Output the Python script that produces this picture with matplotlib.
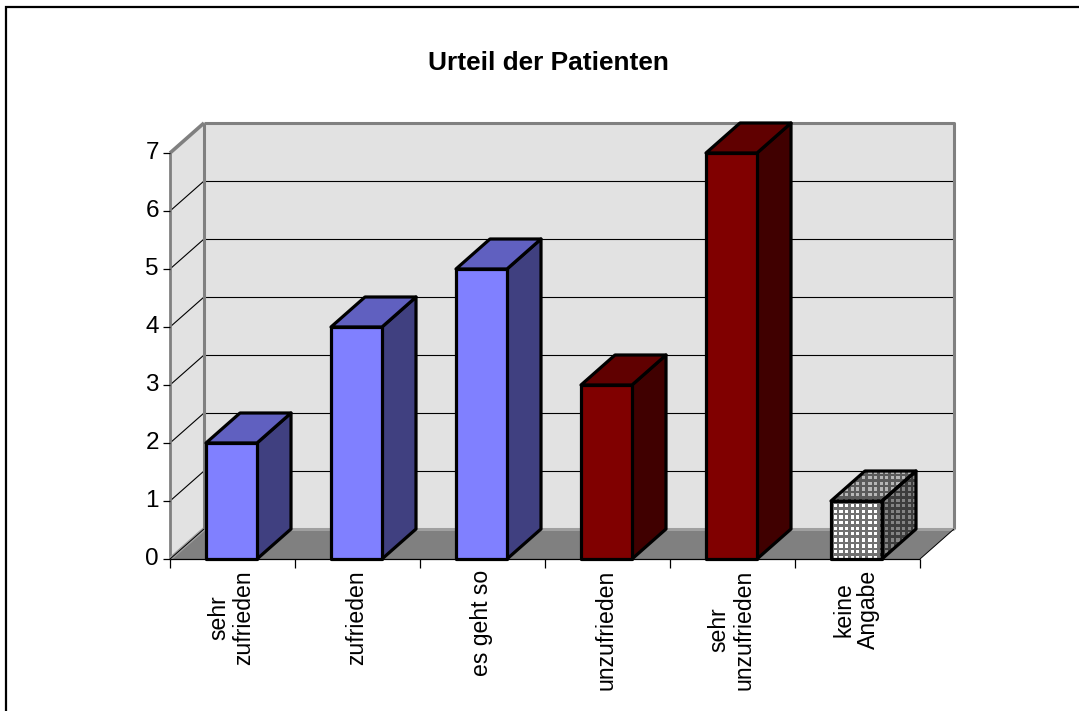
import numpy as np
import matplotlib
matplotlib.use("Agg")
import matplotlib.pyplot as plt
from matplotlib.lines import Line2D
from matplotlib.patches import Polygon

categories = ["sehr\nzufrieden", "zufrieden", "es geht so", "unzufrieden", "sehr\nunzufrieden", "keine\nAngabe"]
values = [2, 4, 5, 3, 7, 1]
y_ticks = [0, 1, 2, 3, 4, 5, 6, 7]
front_colors = ["#8080FF", "#8080FF", "#8080FF", "#800000", "#800000", None]
top_colors = ["#6060C0", "#6060C0", "#6060C0", "#600000", "#600000", None]
side_colors = ["#404080", "#404080", "#404080", "#400000", "#400000", None]

W, H = 1079, 711
plt.rcParams["font.family"] = ["Liberation Sans", "DejaVu Sans"]
fig = plt.figure(figsize=(W / 100, H / 100), dpi=100, facecolor="white")

# chart frame: only the top and left edges fall inside the canvas
fig.add_artist(Line2D([5.5 / W, 5.5 / W, 1], [0, 1 - 6.5 / H, 1 - 6.5 / H], color="black", lw=1.6,
                      transform=fig.transFigure, solid_joinstyle="miter"))

# plot area: x 170..920 px, y 153..559 px
ax = fig.add_axes([170 / W, 1 - 559 / H, 750 / W, 406 / H])
ax.axis("off")

# oblique depth of the pseudo-3D box, in data units
DX = 34 / 125
DY = 30 / 58
BAR_W = 51 / 125
BAR_SHIFT = -1 / 125
GRAY = "#808080"


def poly(pts, fc, ec="none", lw=0.0, z=1):
    p = Polygon(pts, closed=True, fc=fc, ec=ec, lw=lw, zorder=z, clip_on=False, joinstyle="round")
    ax.add_patch(p)
    return p


def line(xs, ys, color="black", lw=0.75, z=2):
    ax.plot(xs, ys, color=color, lw=lw, zorder=z, clip_on=False, solid_capstyle="butt")


# walls and floor
ymax = y_ticks[-1]
poly([(DX, DY), (6 + DX, DY), (6 + DX, ymax + DY), (DX, ymax + DY)], "#E2E2E2")
poly([(0, 0), (DX, DY), (DX, ymax + DY), (0, ymax)], "#E2E2E2")
poly([(0, 0), (6, 0), (6 + DX, DY), (DX, DY)], GRAY)

# gridlines across side wall and back wall
for t in y_ticks[1:-1]:
    line([0, DX], [t, t + DY], "black", 0.8)
    line([DX, 6 + DX], [t + DY, t + DY], "black", 0.8)

# wall outlines
line([DX, 6 + DX, 6 + DX], [ymax + DY, ymax + DY, DY], GRAY, 2.2, 3)
line([DX, 6 + DX], [DY, DY], "#A0A0A0", 2.2, 3)
line([DX, DX], [DY, ymax + DY], GRAY, 2.2, 3)
line([0, 0], [0, ymax], GRAY, 2.0, 3)
line([0, DX], [ymax, ymax + DY], GRAY, 2.6, 3)
line([0, DX], [0, DY], "#A0A0A0", 2.6, 3)
line([0, DX], [0, DY], "black", 0.7, 3)
line([6, 6 + DX], [0, DY], "black", 0.7, 3)

# axis lines and ticks
line([0, 6], [0, 0], "black", 0.9, 4)
for i in range(7):
    line([i, i], [0, -9 / 58], "black", 0.9, 4)
for t in y_ticks:
    line([-7 / 125, 0], [t, t], "black", 0.9, 4)
    ax.text(-11 / 125, t, str(t), ha="right", va="center", fontsize=17.5)


# pixel-sized dot texture used by the last category
def dotted(patch, base, dot, z):
    extent = (4.9, 6.6, -0.2, 2.2)
    nx = int((extent[1] - extent[0]) * 125)
    ny = int((extent[3] - extent[2]) * 58)
    yy, xx = np.indices((ny, nx))
    mask = (xx % 5.6 < 3.2) & (yy % 5.6 < 3.2)
    img = np.where(mask[..., None], np.array(dot), np.array(base))
    im = ax.imshow(img, extent=extent, interpolation="nearest", zorder=z, aspect="auto")
    im.set_clip_path(patch)


EDGE = 2.3

# bars
for i, v in enumerate(values):
    x0 = i + 0.5 - BAR_W / 2 + BAR_SHIFT
    x1 = x0 + BAR_W
    front = [(x0, 0), (x1, 0), (x1, v), (x0, v)]
    top = [(x0, v), (x1, v), (x1 + DX, v + DY), (x0 + DX, v + DY)]
    side = [(x1, 0), (x1 + DX, DY), (x1 + DX, v + DY), (x1, v)]
    z = 5 + i
    if front_colors[i] is None:
        for pts, base, dot in ((front, (0.44, 0.44, 0.44), (1, 1, 1)),
                               (top, (0.36, 0.36, 0.36), (0.72, 0.72, 0.72)),
                               (side, (0.24, 0.24, 0.24), (0.52, 0.52, 0.52))):
            p = poly(pts, "none", z=z)
            dotted(p, base, dot, z)
            poly(pts, "none", "black", EDGE, z + 0.5)
    else:
        poly(side, side_colors[i], "black", EDGE, z)
        poly(top, top_colors[i], "black", EDGE, z)
        poly(front, front_colors[i], "black", EDGE, z)

ax.set_xlim(0, 6)
ax.set_ylim(0, 7)

# rotated category labels
for i, c in enumerate(categories):
    ax.text(i + 0.5 - 1 / 125, -11 / 58, c, rotation=90, ha="center", va="top", fontsize=16.6,
            multialignment="center", linespacing=1.08, clip_on=False)

fig.text(548 / W, 1 - 63 / H, "Urteil der Patienten", ha="center", va="center", fontsize=18.9, fontweight="bold")

fig.savefig("out.png", dpi=100)
